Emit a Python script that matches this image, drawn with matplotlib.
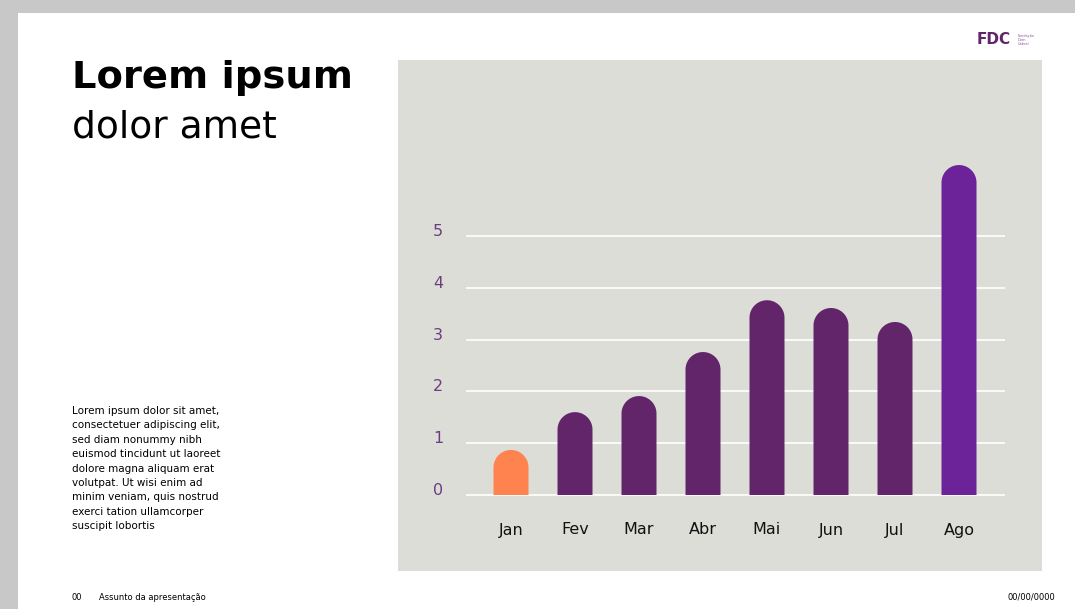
import matplotlib
matplotlib.use('Agg')
import numpy as np
import matplotlib.pyplot as plt
from matplotlib.patches import Rectangle, PathPatch
from matplotlib.path import Path

# chart data
months = ['Jan', 'Fev', 'Mar', 'Abr', 'Mai', 'Jun', 'Jul', 'Ago']
values = [0.87, 1.60, 1.91, 2.76, 3.76, 3.61, 3.34, 6.37]
y_ticks = [0, 1, 2, 3, 4, 5]
bar_colors = ['#FF834F', '#62256A', '#62256A', '#62256A', '#62256A', '#62256A', '#62256A', '#6C2399']

body = ("Lorem ipsum dolor sit amet,\nconsectetuer adipiscing elit,\nsed diam nonummy nibh\n"
        "euismod tincidunt ut laoreet\ndolore magna aliquam erat\nvolutpat. Ut wisi enim ad\n"
        "minim veniam, quis nostrud\nexerci tation ullamcorper\nsuscipit lobortis")

W, H = 1075, 609
fig = plt.figure(figsize=(W / 100, H / 100), dpi=100, facecolor='#C8C8C8')

# white slide (behind the axes)
fig.patches.append(Rectangle((18 / W, 0), 1 - 18 / W, (H - 13) / H, transform=fig.transFigure,
                             facecolor='white', edgecolor='none', zorder=-5))

# chart panel
px0, px1, py0, py1 = 398, 1042, 60, 571
ax = fig.add_axes([px0 / W, 1 - py1 / H, (px1 - px0) / W, (py1 - py0) / H])
ax.set_facecolor('#DDDDD8')
for s in ax.spines.values():
    s.set_visible(False)
ax.set_xticks([])
ax.set_yticks([])

# data limits: bar centres 64px apart, first at x=511; zero at y=495, 51.8px per unit
x_c0, dx = 511, 64
y0, dy = 495, 51.8
ax.set_xlim((px0 - x_c0) / dx, (px1 - x_c0) / dx)
ax.set_ylim(-(py1 - y0) / dy, (y0 - py0) / dy)

gx0, gx1 = (466 - x_c0) / dx, (1005 - x_c0) / dx
ax.hlines(y_ticks, gx0, gx1, colors='white', linewidth=1.2, zorder=1)

for t in y_ticks:
    ax.text((438 - x_c0) / dx, t + 0.085, str(t), color='#6E3C80', fontsize=11.5,
            ha='center', va='center')

# rounded-top bars: one path per bar (straight sides + half-circle cap)
bw = 35 / dx
rx = bw / 2
ry = rx * dx / dy
ang = np.linspace(0, np.pi, 40)
for i, (m, v, c) in enumerate(zip(months, values, bar_colors)):
    top = v - ry
    xs = np.concatenate([[i - rx, i + rx], i + rx * np.cos(ang)])
    ys = np.concatenate([[0, 0], top + ry * np.sin(ang)])
    verts = np.column_stack([xs, ys])
    ax.add_patch(PathPatch(Path(np.vstack([verts, verts[:1]]), closed=True),
                           facecolor=c, edgecolor='none', zorder=2))
    ax.text(i, -(530 - y0) / dy, m, fontsize=11.5, color='#111111', ha='center', va='center')

# titles and body text
fig.text(72 / W, 1 - 78 / H, 'Lorem ipsum', fontsize=27.7, fontweight='bold', color='black',
         va='center', ha='left')
fig.text(72 / W, 1 - 128 / H, 'dolor amet', fontsize=27, color='black', va='center', ha='left')
fig.text(72 / W, 1 - 406 / H, body, fontsize=7.5, color='black', va='top', ha='left',
         linespacing=1.55)

# footer
fig.text(72 / W, 1 - 597 / H, '00', fontsize=6, va='center', ha='left')
fig.text(99 / W, 1 - 597 / H, 'Assunto da apresentação', fontsize=6, va='center', ha='left')
fig.text(1055 / W, 1 - 597 / H, '00/00/0000', fontsize=6, va='center', ha='right')

# logo
fig.text(977 / W, 1 - 40 / H, 'FDC', fontsize=11, fontweight='bold', color='#62256A',
         va='center', ha='left')
fig.text(1018 / W, 1 - 40 / H, 'Fundação\nDom\nCabral', fontsize=2.5, color='#8B5A96',
         va='center', ha='left', linespacing=1.1)

fig.savefig('out.png', dpi=100, facecolor=fig.get_facecolor())
